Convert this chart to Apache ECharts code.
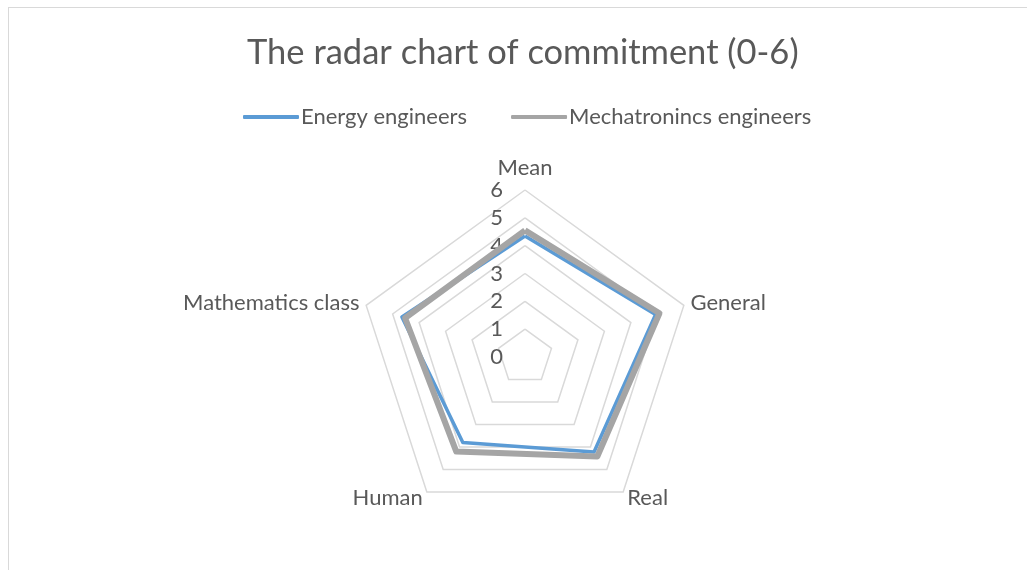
<!DOCTYPE html>
<html>
<head>
<meta charset="utf-8">
<script src="https://cdn.jsdelivr.net/npm/echarts@6/dist/echarts.min.js"></script>
<style>
  html, body { margin: 0; padding: 0; background: #fff; }
  #main { width: 1027px; height: 570px; }
  .frame { position: absolute; left: 8px; top: 7px; width: 1040px; height: 600px; border: 1px solid #d9d9d9; pointer-events: none; }
</style>
</head>
<body>
<div id="main"></div>
<div class="frame"></div>
<script>
// 数据
const categories = ['Mean', 'General', 'Real', 'Human', 'Mathematics class'];
const energyValues = [4.35, 4.93, 4.22, 3.8, 4.65];
const mechaValues = [4.55, 5.08, 4.42, 4.2, 4.53];
const axisMax = 6;
const seriesNames = ['Energy engineers', 'Mechatronincs engineers'];

// echarts 雷达默认逆时针，这里换成顺时针的顺序
const order = [0, 4, 3, 2, 1];
const pick = arr => order.map(i => arr[i]);

const txt = '#595959';
const font = 'Lato';
const fs = 22;

var chart = echarts.init(document.getElementById('main'));
var option = {
    animation: false,
    title: {
        text: 'The radar chart of commitment (0-6)',
        left: 242,
        top: 30,
        textStyle: { color: txt, fontSize: 34.5, fontWeight: 'normal', fontFamily: font }
    },
    legend: {
        top: 101,
        left: 238,
        itemWidth: 56,
        itemHeight: 4,
        itemGap: 44,
        icon: 'roundRect',
        data: seriesNames,
        textStyle: { color: txt, fontSize: fs, fontFamily: font, padding: [0, 0, 0, -3] }
    },
    radar: {
        center: [525, 357],
        radius: 167,
        shape: 'polygon',
        splitNumber: 6,
        nameGap: 7,
        axisName: { color: txt, fontSize: fs, fontFamily: font },
        axisLine: { show: false },
        axisTick: { show: false },
        axisLabel: { show: false },
        splitArea: { show: false },
        splitLine: { lineStyle: { color: '#d9d9d9', width: 1.5 } },
        indicator: pick(categories).map((name, i) => ({
            name: name,
            min: 0,
            max: axisMax,
            // 只在第一根轴上显示刻度
            axisLabel: i === 0 ? { show: true, color: txt, fontSize: fs, fontFamily: font, margin: 22 } : { show: false }
        }))
    },
    series: [{
        type: 'radar',
        symbol: 'none',
        data: [{
            name: seriesNames[0],
            value: pick(energyValues),
            lineStyle: { color: '#5b9bd5', width: 3.5 },
            itemStyle: { color: '#5b9bd5' }
        }, {
            name: seriesNames[1],
            value: pick(mechaValues),
            lineStyle: { color: '#a5a5a5', width: 6 },
            itemStyle: { color: '#a5a5a5' }
        }]
    }]
};
chart.setOption(option);
</script>
</body>
</html>
